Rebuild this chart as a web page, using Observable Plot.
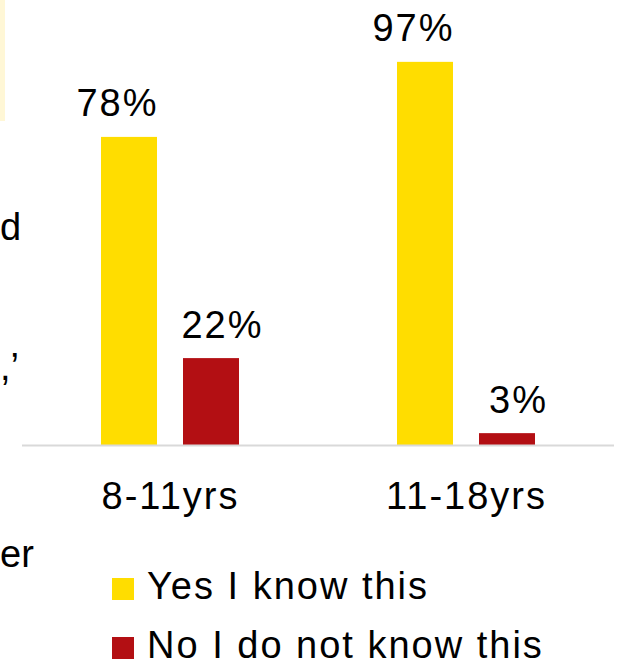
<!DOCTYPE html>
<html><head><meta charset="utf-8">
<script src="https://cdn.jsdelivr.net/npm/d3@7"></script>
<script src="https://cdn.jsdelivr.net/npm/@observablehq/plot@0.6"></script>
<style>
body{margin:0;background:#fff;font-family:"Liberation Sans",Arial,sans-serif;}
#wrap{position:relative;width:617px;height:668px;overflow:hidden;background:#fff;}
#wrap svg{position:absolute;left:0;top:0;}
#wrap svg text{letter-spacing:2px;}
.frag{position:absolute;font-size:38px;line-height:38px;color:#000;white-space:nowrap;}
.strip{position:absolute;left:0;top:0;width:5px;height:121px;background:#FFF7D6;}
.sw{position:absolute;width:22px;height:22px;}
.lt{position:absolute;font-size:38px;line-height:38px;color:#000;white-space:nowrap;letter-spacing:2px;}
</style></head><body><div id="wrap"></div>
<script>
const groups = ["8-11yrs", "11-18yrs"];
const series = ["Yes I know this", "No I do not know this"];
const yesValues = [78, 97];
const noValues = [22, 3];
const colors = ["#FFDD00", "#B30F13"];

const data = groups.flatMap((g, i) => [
  {group: g, series: series[0], value: yesValues[i]},
  {group: g, series: series[1], value: noValues[i]}
]);

const wrap = document.getElementById("wrap");

const labelOpts = (s, dx) => ({
  filter: d => d.series === s,
  fx: "group", x: "series", y: "value",
  text: d => d.value + "%",
  lineAnchor: "bottom", dy: -21, dx, fontSize: 38, fill: "#000"
});

const chart = Plot.plot({
  width: 617,
  height: 540,
  marginTop: 50,
  marginBottom: 95,
  marginLeft: 22,
  marginRight: 3,
  style: {fontFamily: "'Liberation Sans', Arial, sans-serif", fontSize: "38px", color: "#000", background: "transparent", overflow: "visible"},
  fx: {domain: groups, paddingInner: 0, paddingOuter: 0, label: null, axis: "bottom", tickSize: 0, tickPadding: 37},
  x: {domain: series, paddingInner: 0.313, paddingOuter: 0.946, axis: null},
  y: {domain: [0, 100], axis: null},
  color: {domain: series, range: colors},
  marks: [
    Plot.barY(data, {fx: "group", x: "series", y: "value", fill: "series"}),
    Plot.ruleY([0], {stroke: "#d9d9d9", strokeWidth: 2}),
    Plot.text(data, labelOpts(series[0], -12)),
    Plot.text(data, labelOpts(series[1], 11))
  ]
});
wrap.appendChild(chart);

// neighbouring slide content visible at the left edge
const strip = document.createElement("div");
strip.className = "strip";
wrap.appendChild(strip);
const frags = [["d", 0, 208], [",\u2019", 0, 348], ["er", 0, 535]];
for (const [t, l, tp] of frags) {
  const f = document.createElement("div");
  f.className = "frag";
  f.textContent = t;
  f.style.left = l + "px";
  f.style.top = tp + "px";
  wrap.appendChild(f);
}

// legend
series.forEach((s, i) => {
  const top = 567 + i * 59;
  const sw = document.createElement("div");
  sw.className = "sw";
  sw.style.background = colors[i];
  sw.style.left = "112px";
  sw.style.top = (top + 11) + "px";
  wrap.appendChild(sw);
  const t = document.createElement("div");
  t.className = "lt";
  t.textContent = s;
  t.style.left = "147px";
  t.style.top = top + "px";
  wrap.appendChild(t);
});
</script>
</body></html>
